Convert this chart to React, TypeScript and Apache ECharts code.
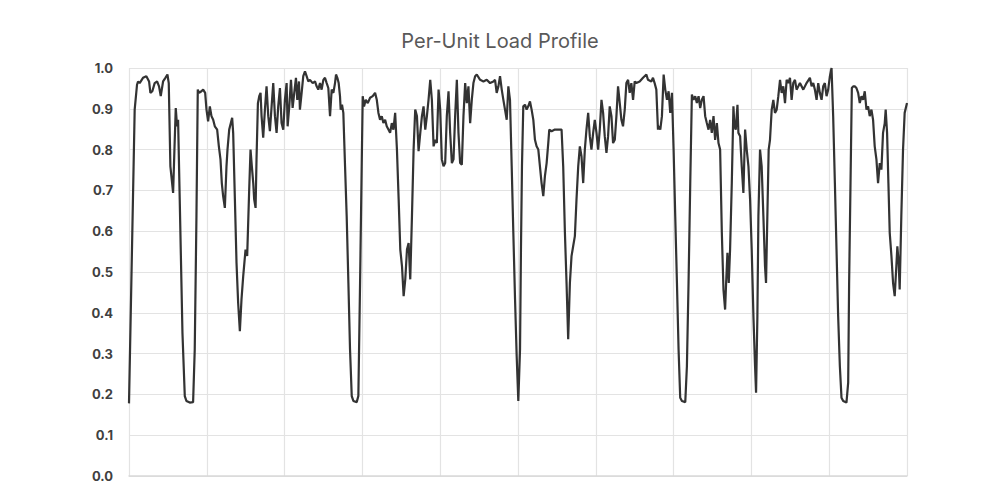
import React, { useEffect, useRef } from "react";
import * as echarts from "echarts";

const TITLE = "Per-Unit Load Profile";

const hours: number[] = [
  0, 3.0, 7.3, 10.3, 11.6, 13.7, 18.0, 22.3, 25.8, 27.5, 30.0, 33.0, 36.1, 38.6, 40.8, 43.8, 46.8, 49.4, 51.1,
  53.2, 54.5, 56.7, 58.4, 60.1, 61.8, 63.1, 65.2, 68.7, 71.7, 73.8, 78.1, 82.4, 84.5, 86.7, 88.4, 90.1, 93.1,
  95.3, 97.9, 99.6, 101.7, 103.9, 106.0, 108.2, 110.3, 113.3, 115.5, 117.6, 119.3, 121.0, 123.2, 125.3, 126.6,
  128.8, 130.9, 132.6, 133.9, 136.1, 138.2, 140.3, 142.5, 144.6, 146.8, 149.8, 151.9, 154.5, 156.2, 157.9,
  159.7, 160.9, 162.7, 163.9, 165.7, 167.4, 169.1, 170.4, 172.5, 174.7, 176.8, 179.0, 181.1, 183.3, 185.4,
  187.6, 189.7, 191.8, 194.0, 196.1, 198.3, 200.4, 202.6, 203.9, 206.0, 208.2, 210.3, 212.4, 214.6, 216.3,
  218.5, 219.7, 221.9, 224.0, 226.2, 228.3, 230.5, 232.6, 236.1, 239.1, 241.2, 243.3, 245.5, 247.6, 249.8,
  251.9, 254.1, 256.2, 258.4, 260.5, 262.7, 264.8, 266.1, 267.8, 269.5, 271.2, 272.1, 273.8, 275.5, 277.7,
  279.8, 282.0, 284.1, 286.3, 288.4, 292.7, 294.8, 297.0, 299.1, 300.4, 302.1, 304.3, 306.9, 309.9, 313.3,
  316.3, 318.5, 320.6, 322.7, 324.9, 327.0, 329.2, 331.3, 333.5, 335.6, 337.8, 339.9, 342.1,
  344.4, 346.6, 348.7, 350.9, 353.0, 355.1, 357.3, 359.4, 361.5, 363.7, 365.8, 367.9, 370.1, 372.2, 374.4,
  376.5, 378.6, 380.8, 382.9, 385.0, 387.2, 389.3, 391.5, 393.6, 395.7, 397.9, 400.0, 402.1, 404.3, 406.4,
  408.5, 410.7, 412.8, 415.0, 417.1, 419.2, 421.4, 423.5, 425.6, 427.8, 429.9, 432.1, 434.2, 436.3, 438.5,
  440.6, 442.7, 444.9, 447.0, 451.3, 455.6, 459.8, 464.1, 468.4, 470.5, 472.6, 474.8, 476.9, 479.1, 481.2,
  483.3, 485.5, 487.6, 489.7, 491.9, 494.0, 496.2, 498.3, 500.4, 502.6, 503.8, 505.1, 506.8, 509.0, 511.1,
  513.2, 515.4, 517.5, 519.7, 521.8, 523.9, 526.1, 528.2, 530.3, 532.5, 534.6, 536.8, 538.9, 540.2, 543.2,
  547.4, 551.7, 556.0, 558.1, 560.3, 562.4, 564.5, 566.7, 568.8, 570.9, 573.1, 575.2, 577.4, 579.5, 581.6,
  583.8, 585.9, 588.0, 590.2, 592.3, 594.4, 596.6, 598.7, 600.9, 603.0, 605.1, 607.3, 609.4, 611.5, 613.7,
  615.8, 617.9, 620.1, 622.2, 624.4, 626.5, 628.6, 630.8, 632.9, 635.0, 637.2, 639.3, 641.5, 643.6, 645.7,
  647.9, 650.0, 652.1, 656.4, 660.7, 665.0, 667.1, 671.4, 673.5, 675.6, 677.8, 679.9,
  680.8, 682.9, 685.0, 687.2, 689.3, 691.5, 693.6, 695.7, 697.9, 700.0, 702.1, 704.3, 706.4, 708.5, 710.7,
  715.0, 717.1, 719.2, 721.4, 723.5, 725.6, 727.8, 729.9, 732.1, 734.2, 736.3, 738.5, 740.6, 742.7, 744.9,
  747.0, 749.1, 751.3, 753.4, 755.6, 757.7, 759.8, 762.0, 764.1, 766.2, 767.5, 769.2, 770.9, 772.6, 774.8,
  776.9, 778.2, 779.9, 782.1, 783.3, 785.5, 787.6, 789.7, 791.9, 794.0, 796.2, 798.3, 800.4, 802.6, 804.7,
  806.0, 807.7, 809.0, 811.1, 813.2, 815.4, 817.5, 818.8, 820.5, 822.2, 823.9, 826.1, 828.2, 830.3, 832.5,
  834.6, 836.8, 838.9, 841.0, 843.2, 845.3, 847.4, 849.6, 851.7, 853.8, 856.0, 858.1, 860.3, 862.4, 866.7,
  870.9, 875.2, 877.4, 879.5, 881.6, 883.8, 885.9, 888.0, 890.2, 892.3, 894.4, 896.6, 898.7, 900.9, 903.0,
  905.1, 907.3, 909.4, 911.5, 913.7, 915.8, 918.0, 922.2, 924.4, 925.6, 927.4, 929.1, 930.8, 932.9, 935.0,
  937.2, 939.3, 941.5, 943.6, 945.7, 947.9, 950.0, 952.1, 954.3, 956.4, 958.5, 960.7, 962.8, 965.0, 967.1,
  969.2, 971.4, 972.6, 974.4, 976.1, 977.8, 980.0, 982.1, 984.2, 986.3, 987.6, 989.3, 990.6, 992.7, 994.9,
  997.0, 1000,
];

const loads: number[] = [
  0.178, 0.473, 0.898, 0.959, 0.967, 0.963, 0.976, 0.98, 0.967, 0.939, 0.943, 0.963, 0.967, 0.955, 0.931, 0.967, 0.976, 0.984, 0.963,
  0.759, 0.735, 0.694, 0.8, 0.902, 0.857, 0.873, 0.678, 0.351, 0.196, 0.184, 0.18, 0.181, 0.31, 0.637, 0.947, 0.939, 0.943,
  0.947, 0.939, 0.898, 0.869, 0.906, 0.882, 0.873, 0.857, 0.849, 0.808, 0.776, 0.718, 0.686, 0.657, 0.759, 0.8,
  0.849, 0.865, 0.878, 0.841, 0.678, 0.522, 0.424, 0.355, 0.433, 0.49, 0.555, 0.539, 0.702, 0.8, 0.759,
  0.718, 0.678, 0.657, 0.776, 0.914, 0.931, 0.939, 0.882, 0.829, 0.898, 0.955, 0.882, 0.845, 0.906, 0.963,
  0.882, 0.841, 0.906, 0.951, 0.865, 0.849, 0.922, 0.963, 0.857, 0.906, 0.971, 0.902, 0.939, 0.976, 0.922,
  0.967, 0.898, 0.939, 0.98, 0.992, 0.98, 0.967, 0.971, 0.963, 0.967, 0.955, 0.947, 0.963, 0.947, 0.971,
  0.976, 0.963, 0.951, 0.882, 0.947, 0.939, 0.963, 0.984, 0.976, 0.963, 0.931, 0.898, 0.91, 0.89, 0.759,
  0.637, 0.473, 0.31, 0.196, 0.184, 0.181, 0.196, 0.473, 0.759, 0.931, 0.906, 0.922, 0.914, 0.927, 0.931,
  0.939, 0.922, 0.89, 0.873, 0.882, 0.865, 0.873, 0.857, 0.849, 0.841, 0.865, 0.849, 0.89,
  0.8, 0.678, 0.555, 0.514, 0.441, 0.482, 0.555, 0.571, 0.482, 0.637, 0.8, 0.898, 0.882, 0.796, 0.841,
  0.882, 0.906, 0.849, 0.882, 0.922, 0.971, 0.922, 0.808, 0.824, 0.816, 0.947, 0.898, 0.776, 0.759, 0.767,
  0.882, 0.943, 0.841, 0.767, 0.776, 0.882, 0.971, 0.841, 0.767, 0.763, 0.882, 0.963, 0.914, 0.955, 0.865,
  0.922, 0.963, 0.98, 0.984, 0.971, 0.967, 0.971, 0.963, 0.967, 0.971, 0.939, 0.955, 0.98, 0.947, 0.922,
  0.898, 0.873, 0.955, 0.922, 0.759, 0.596, 0.433, 0.294, 0.184, 0.31, 0.555, 0.759, 0.906, 0.91, 0.898,
  0.906, 0.918, 0.898, 0.873, 0.824, 0.808, 0.8, 0.759, 0.718, 0.686, 0.735, 0.767, 0.816, 0.849, 0.845,
  0.849, 0.849, 0.849, 0.759, 0.596, 0.473, 0.335, 0.473, 0.539, 0.563, 0.588, 0.678, 0.759, 0.808, 0.784,
  0.718, 0.8, 0.849, 0.89, 0.833, 0.8, 0.841, 0.873, 0.841, 0.8, 0.849, 0.922, 0.89, 0.833, 0.792,
  0.833, 0.906, 0.882, 0.816, 0.824, 0.882, 0.955, 0.914, 0.873, 0.857, 0.898, 0.963, 0.971, 0.939, 0.963,
  0.922, 0.967, 0.963, 0.967, 0.976, 0.984, 0.971, 0.967, 0.976, 0.963, 0.947, 0.849,
  0.857, 0.849, 0.882, 0.984, 0.947, 0.922, 0.943, 0.89, 0.939, 0.8, 0.637, 0.473, 0.31, 0.192, 0.184,
  0.181, 0.269, 0.473, 0.718, 0.935, 0.922, 0.931, 0.914, 0.931, 0.902, 0.922, 0.931, 0.882, 0.865, 0.849,
  0.873, 0.841, 0.882, 0.824, 0.865, 0.816, 0.8, 0.596, 0.457, 0.408, 0.473, 0.547, 0.473, 0.555, 0.718,
  0.906, 0.857, 0.849, 0.91, 0.841, 0.833, 0.759, 0.694, 0.849, 0.8, 0.759, 0.678, 0.555, 0.392, 0.269,
  0.204, 0.392, 0.637, 0.8, 0.759, 0.637, 0.514, 0.473, 0.637, 0.8, 0.824, 0.898, 0.922, 0.89, 0.898,
  0.931, 0.971, 0.939, 0.955, 0.914, 0.971, 0.963, 0.976, 0.922, 0.963, 0.971, 0.947, 0.955, 0.963, 0.947,
  0.963, 0.976, 0.955, 0.963, 0.947, 0.922, 0.963, 0.939, 0.922, 0.955, 0.963, 0.931, 0.947, 0.98, 1.0,
  0.882, 0.718, 0.555, 0.392, 0.269, 0.192, 0.184, 0.18, 0.229, 0.473, 0.718, 0.951, 0.955, 0.955, 0.951,
  0.939, 0.914, 0.931, 0.922, 0.943, 0.898, 0.906, 0.882, 0.898, 0.873, 0.808, 0.776, 0.718, 0.767, 0.751,
  0.841, 0.865, 0.898, 0.841, 0.718, 0.596, 0.539, 0.473, 0.441, 0.514, 0.563, 0.522, 0.457, 0.637, 0.8,
  0.89, 0.914,
];

const yTicks = [0, 0.1, 0.2, 0.3, 0.4, 0.5, 0.6, 0.7, 0.8, 0.9, 1.0];

export default function App() {
  const ref = useRef<HTMLDivElement>(null);

  useEffect(() => {
    if (!ref.current) return;
    const chart = echarts.init(ref.current, undefined, { renderer: "svg" });
    const data = hours.map((h, i) => [h, loads[i]]);
    chart.setOption({
      animation: false,
      backgroundColor: "#ffffff",
      title: {
        text: TITLE,
        left: "center",
        top: 26,
        textStyle: {
          fontFamily: "Inter",
          fontSize: 20,
          fontWeight: "normal",
          color: "#595959",
        },
      },
      grid: { left: 129, right: 93, top: 68, bottom: 24, containLabel: false },
      xAxis: {
        type: "value",
        min: 0,
        max: 1000,
        interval: 100,
        axisLabel: { show: false },
        axisTick: { show: false },
        axisLine: { show: true, lineStyle: { color: "#d9d9d9", width: 1.5 } },
        splitLine: { show: true, lineStyle: { color: "#e3e3e3", width: 1.2 } },
      },
      yAxis: {
        type: "value",
        min: yTicks[0],
        max: yTicks[yTicks.length - 1],
        interval: 0.1,
        axisLine: { show: false },
        axisTick: { show: false },
        axisLabel: {
          margin: 16,
          fontFamily: "Inter",
          fontSize: 13,
          fontWeight: "bold",
          color: "#404040",
          formatter: (v: number) => v.toFixed(1),
        },
        splitLine: { show: true, lineStyle: { color: "#e3e3e3", width: 1.2 } },
      },
      series: [
        {
          type: "line",
          data,
          showSymbol: false,
          lineStyle: { color: "#333333", width: 2.2 },
          z: 3,
        },
      ],
    });
    return () => chart.dispose();
  }, []);

  return <div ref={ref} style={{ width: 1000, height: 500, position: "absolute", left: 0, top: 0 }} />;
}
